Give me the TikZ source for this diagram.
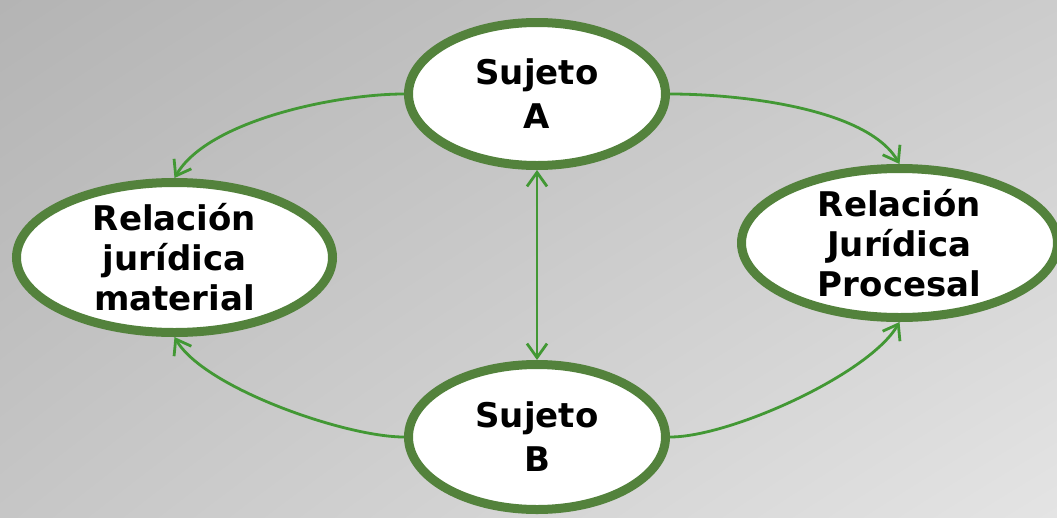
\documentclass[tikz,border=0pt]{standalone}
\usepackage{fontspec}
\setmainfont{DejaVu Sans}
\usepackage{xcolor}
\usetikzlibrary{arrows.meta,shapes.geometric,shadings}
\definecolor{myborder}{RGB}{83,130,60}
\definecolor{myarrow}{RGB}{66,152,52}
\definecolor{bgtl}{RGB}{180,180,180}
\definecolor{bgtr}{RGB}{204,204,204}
\definecolor{bgbl}{RGB}{198,198,198}
\definecolor{bgbr}{RGB}{228,228,228}

\begin{document}
\begin{tikzpicture}[x=1pt,y=-1pt,>={Straight Barb[length=14pt,width=20pt]}]
  \tikzstyle{bubble}=[ellipse,draw=myborder,line width=9pt,fill=white,inner sep=0pt,align=center]
  \tikzstyle{link}=[draw=myarrow,line width=2.8pt,->]

  \useasboundingbox (0,0) rectangle (1057,517);
  \shade[upper left=bgtl,upper right=bgtr,lower left=bgbl,lower right=bgbr] (0,0) rectangle (1057,517);

  \node[bubble,minimum width=257pt,minimum height=143pt,font=\bfseries\fontsize{34}{44}\selectfont] (A) at (537,94) {Sujeto\\A};
  \node[bubble,minimum width=257pt,minimum height=145pt,font=\bfseries\fontsize{34}{44}\selectfont] (B) at (537,437) {Sujeto\\B};
  \node[bubble,minimum width=316pt,minimum height=150pt,inner ysep=-12pt,font=\bfseries\fontsize{34}{40}\selectfont] (M) at (174.5,257.5) {Relación\\jurídica\\material};
  \node[bubble,minimum width=316pt,minimum height=149pt,inner ysep=-12pt,font=\bfseries\fontsize{34}{40}\selectfont] (P) at (899.5,243) {Relación\\Jurídica\\Procesal};

  \path[link] (A.west) to[out=180,in=60,looseness=0.7] (M.north);
  \path[link] (A.east) to[out=0,in=120,looseness=0.7] (P.north);
  \path[link] (B.west) to[out=180,in=-60,looseness=0.6] (M.south);
  \path[link] (B.east) to[out=0,in=-120,looseness=0.6] (P.south);
  \path[link,<->] (A.south) -- (B.north);
\end{tikzpicture}
\end{document}
